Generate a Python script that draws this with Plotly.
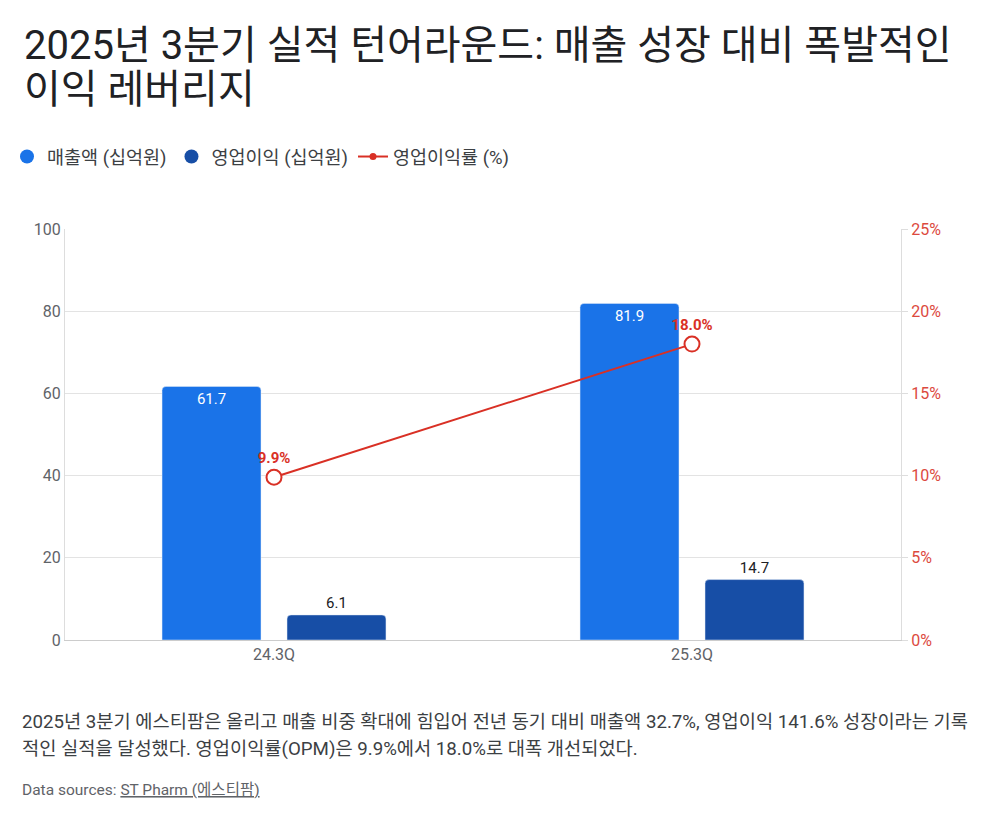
import plotly.graph_objects as go

categories = ["24.3Q", "25.3Q"]
revenue = [61.7, 81.9]
op_profit = [6.1, 14.7]
opm = [9.9, 18.0]
left_ticks = [0, 20, 40, 60, 80, 100]
right_ticks = [0, 5, 10, 15, 20, 25]

names = ["매출액 (십억원)", "영업이익 (십억원)", "영업이익률 (%)"]
C_REV = "#1a73e8"
C_OP = "#174ea6"
C_RED = "#d93025"
C_RED_TICK = "#dc4a3e"
FONT = "Roboto, 'Noto Sans CJK KR', sans-serif"

fig = go.Figure()

fig.add_trace(go.Bar(
    x=categories, y=revenue, name=names[0], marker=dict(color=C_REV, cornerradius=4),
    text=[f"{v:.1f}" for v in revenue], textposition="inside", insidetextanchor="end",
    textfont=dict(color="white", size=15, family=FONT), showlegend=False, cliponaxis=False,
))
fig.add_trace(go.Bar(
    x=categories, y=op_profit, name=names[1], marker=dict(color=C_OP, cornerradius=4),
    text=[f"{v:.1f}" for v in op_profit], textposition="outside",
    textfont=dict(color="#202124", size=15, family=FONT), showlegend=False, cliponaxis=False,
))
fig.add_trace(go.Scatter(
    x=categories, y=opm, name=names[2], yaxis="y2", mode="lines+markers+text",
    line=dict(color=C_RED, width=2),
    marker=dict(size=15, color="white", line=dict(color=C_RED, width=2)),
    text=[f"{v:.1f}%" for v in opm], textposition="top center",
    textfont=dict(color=C_RED, size=15, family=FONT, weight="bold"),
    showlegend=False, cliponaxis=False,
))

# legend entries
fig.add_trace(go.Scatter(x=[None], y=[None], mode="markers", name=names[0],
                         marker=dict(symbol="circle", size=14, color=C_REV)))
fig.add_trace(go.Scatter(x=[None], y=[None], mode="markers", name=names[1],
                         marker=dict(symbol="circle", size=14, color=C_OP)))
fig.add_trace(go.Scatter(x=[None], y=[None], mode="lines+markers", name=names[2],
                         line=dict(color=C_RED, width=2), marker=dict(size=7, color=C_RED)))

fig.update_layout(
    width=1000, height=820,
    margin=dict(l=65, r=99, t=229, b=180),
    paper_bgcolor="white", plot_bgcolor="white",
    font=dict(family=FONT, color="#3c4043"),
    barmode="group", bargap=0.402, bargroupgap=0.208,
    legend=dict(
        orientation="h", x=0.007, xanchor="left", xref="container",
        y=1 - 157 / 820, yanchor="middle", yref="container",
        font=dict(size=18.5, color="#3c4043", family=FONT),
        itemwidth=30, tracegroupgap=0, traceorder="normal",
    ),
    xaxis=dict(
        showgrid=False, showline=True, linecolor="#cccccc", linewidth=1,
        tickfont=dict(size=16, color="#5f6368"), ticks="",
    ),
    yaxis=dict(
        range=[0, 100], tickmode="array", tickvals=left_ticks,
        ticktext=[str(t) for t in left_ticks],
        showgrid=True, gridcolor="#e3e3e3",
        showline=True, linecolor="#dddddd", zeroline=False,
        tickfont=dict(size=16, color="#5f6368"), ticks="",
    ),
    yaxis2=dict(
        range=[0, 25], tickmode="array", tickvals=right_ticks,
        ticktext=[f"{t}%" for t in right_ticks], overlaying="y", side="right",
        showgrid=False, showline=True, linecolor="#dddddd", zeroline=False,
        ticks="outside", ticklen=6, tickcolor="#dddddd",
        tickfont=dict(size=16, color=C_RED_TICK),
    ),
)

X0 = (22 - 65) / 836
fig.add_annotation(
    text="2025년 3분기 실적 턴어라운드: 매출 성장 대비 폭발적인",
    xref="paper", yref="paper", x=X0, y=(640 - 45) / 411,
    xanchor="left", yanchor="middle", showarrow=False,
    font=dict(size=40, color="#202124", family=FONT),
)
fig.add_annotation(
    text="이익 레버리지",
    xref="paper", yref="paper", x=X0, y=(640 - 89) / 411,
    xanchor="left", yanchor="middle", showarrow=False,
    font=dict(size=40, color="#202124", family=FONT),
)

X1 = (20 - 65) / 836
fig.add_annotation(
    text="2025년 3분기 에스티팜은 올리고 매출 비중 확대에 힘입어 전년 동기 대비 매출액 32.7%, 영업이익 141.6% 성장이라는 기록",
    xref="paper", yref="paper", x=X1, y=(640 - 722) / 411,
    xanchor="left", yanchor="middle", showarrow=False,
    font=dict(size=18.7, color="#3c4043", family=FONT),
)
fig.add_annotation(
    text="적인 실적을 달성했다. 영업이익률(OPM)은 9.9%에서 18.0%로 대폭 개선되었다.",
    xref="paper", yref="paper", x=X1, y=(640 - 749) / 411,
    xanchor="left", yanchor="middle", showarrow=False,
    font=dict(size=18.7, color="#3c4043", family=FONT),
)
fig.add_annotation(
    text="Data sources: <u>ST Pharm (에스티팜)</u>",
    xref="paper", yref="paper", x=X1, y=(640 - 790) / 411,
    xanchor="left", yanchor="middle", showarrow=False,
    font=dict(size=15.5, color="#5f6368", family=FONT),
)

fig.write_html("out.html")
